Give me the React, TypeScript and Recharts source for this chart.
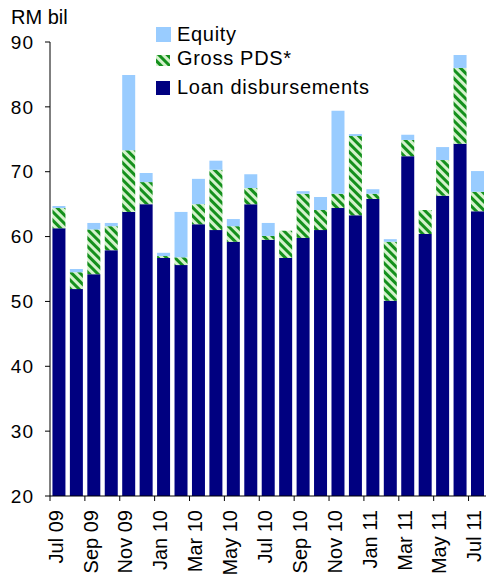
import { BarChart, Bar, XAxis, YAxis } from 'recharts'

const months = [
  'Jul 09', 'Aug 09', 'Sep 09', 'Oct 09', 'Nov 09', 'Dec 09',
  'Jan 10', 'Feb 10', 'Mar 10', 'Apr 10', 'May 10', 'Jun 10',
  'Jul 10', 'Aug 10', 'Sep 10', 'Oct 10', 'Nov 10', 'Dec 10',
  'Jan 11', 'Feb 11', 'Mar 11', 'Apr 11', 'May 11', 'Jun 11', 'Jul 11',
]
const loan = [
  61.3, 51.9, 54.2, 57.9, 63.8, 65.0, 56.7, 55.6, 61.9, 61.0, 59.2, 65.0,
  59.5, 56.7, 59.8, 61.0, 64.4, 63.3, 65.8, 50.1, 72.4, 60.4, 66.3, 74.3, 63.9,
]
const pds = [
  3.1, 2.6, 6.9, 3.7, 9.5, 3.4, 0.3, 1.2, 3.1, 9.3, 2.4, 2.5,
  0.6, 4.2, 6.8, 3.1, 2.2, 12.2, 0.8, 9.1, 2.5, 3.7, 5.5, 11.7, 3.0,
]
const equity = [
  0.3, 0.5, 1.0, 0.5, 11.6, 1.4, 0.5, 7.0, 3.9, 1.4, 1.1, 2.1,
  2.0, 0, 0.4, 2.0, 12.8, 0.3, 0.7, 0.4, 0.8, 0, 2.0, 2.0, 3.2,
]
const yTicks = [20, 30, 40, 50, 60, 70, 80, 90]

const data = months.map((month, i) => ({
  month,
  loan: loan[i],
  pds: pds[i],
  equity: equity[i],
}))

const FONT = '"Liberation Sans", Arial, sans-serif'
const LOAN = '#000080'
const EQUITY = '#99ccff'
const PLOT_W = 436

function Stripes({ id }: { id: string }) {
  return (
    <pattern id={id} width="6" height="6" patternUnits="userSpaceOnUse" patternTransform="rotate(-45)">
      <rect width="6" height="6" fill="#d4f2cc" />
      <rect width="3" height="6" fill="#14901c" />
    </pattern>
  )
}

function MonthTick(props: any) {
  const { x, y, payload } = props
  const half = PLOT_W / months.length / 2
  const tx = x + 4
  const ty = y + 14
  return (
    <g>
      <line x1={x - half} y1={y} x2={x - half} y2={y + 5} stroke="#000" />
      <text
        x={tx}
        y={ty}
        transform={`rotate(-90 ${tx} ${ty})`}
        textAnchor="end"
        fontSize={20}
        fontFamily={FONT}
        fill="#000"
      >
        {payload.value}
      </text>
    </g>
  )
}

// swatch box and text baseline
const legendItems = [
  { label: 'Equity', fill: EQUITY, box: [27, 15, 15], base: 41 },
  { label: 'Gross PDS*', fill: 'url(#pdsLegend)', box: [55, 14, 11], base: 65 },
  { label: 'Loan disbursements', fill: LOAN, box: [81, 14, 14], base: 94 },
]

export default function App() {
  return (
    <div style={{ position: 'absolute', left: 0, top: 0, width: 486, height: 583, fontFamily: FONT }}>
      <BarChart
        width={486}
        height={583}
        data={data}
        margin={{ top: 42, right: 0, left: 10, bottom: 0 }}
        barCategoryGap="14%"
      >
        <defs>
          <Stripes id="pdsFill" />
        </defs>
        <XAxis
          dataKey="month"
          interval={1}
          height={87}
          tickSize={0}
          tickMargin={0}
          tickLine={false}
          axisLine={{ stroke: '#000' }}
          tick={<MonthTick />}
        />
        <YAxis
          domain={[20, 90]}
          ticks={yTicks}
          allowDataOverflow
          width={40}
          tickSize={5}
          tickMargin={11}
          axisLine={{ stroke: '#000' }}
          tickLine={{ stroke: '#000' }}
          tick={{ fill: '#000', fontSize: 19, fontFamily: FONT, letterSpacing: 1 }}
        />
        <Bar dataKey="loan" stackId="a" fill={LOAN} isAnimationActive={false} />
        <Bar dataKey="pds" stackId="a" fill="url(#pdsFill)" isAnimationActive={false} />
        <Bar dataKey="equity" stackId="a" fill={EQUITY} isAnimationActive={false} />
      </BarChart>

      <svg width={486} height={110} style={{ position: 'absolute', left: 0, top: 0 }}>
        <defs>
          <Stripes id="pdsLegend" />
        </defs>
        <text x={11} y={24} fontSize={20} fontFamily={FONT} fill="#000">RM bil</text>
        {legendItems.map((item) => (
          <g key={item.label}>
            <rect x={156} y={item.box[0]} width={item.box[1]} height={item.box[2]} fill={item.fill} />
            <text x={177} y={item.base} fontSize={20} letterSpacing={0.7} fontFamily={FONT} fill="#000">
              {item.label}
            </text>
          </g>
        ))}
      </svg>
    </div>
  )
}
